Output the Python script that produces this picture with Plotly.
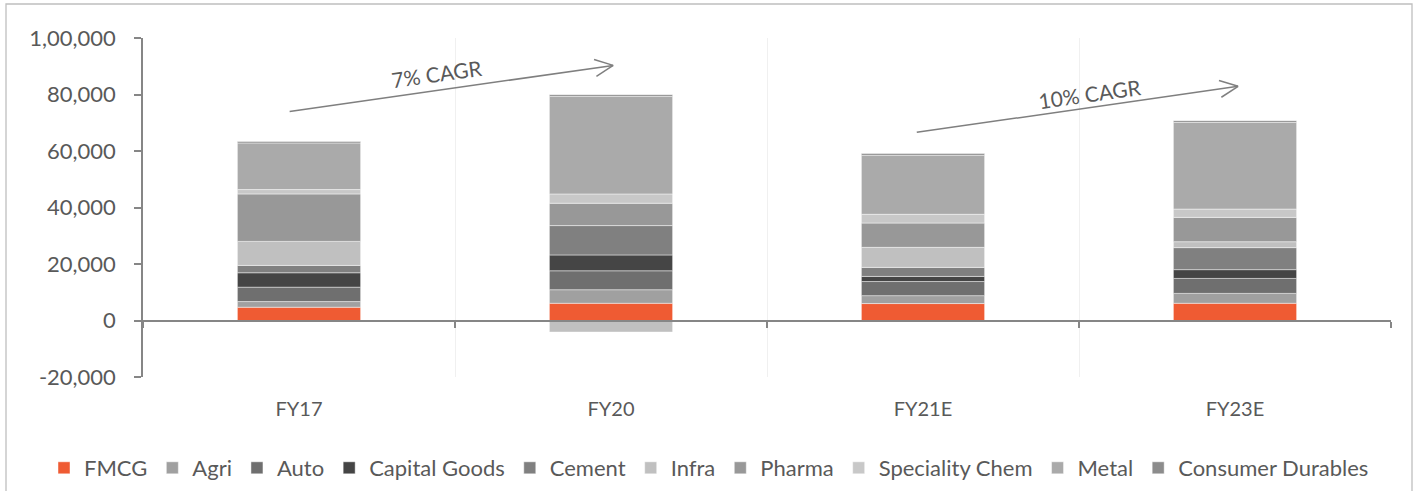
import math
import plotly.graph_objects as go

# ---- data -------------------------------------------------------------
categories = ["FY17", "FY20", "FY21E", "FY23E"]

fmcg = [4700, 6100, 6000, 6100]
agri = [2000, 4800, 2800, 3500]
auto = [5100, 6700, 5000, 5300]
capital_goods = [5100, 5600, 1800, 3100]
cement = [2600, 10400, 3200, 7800]
infra = [8500, -4100, 7100, 2100]
pharma = [16800, 7900, 8600, 8600]
speciality_chem = [1550, 3300, 3100, 2950]
metal = [16500, 34500, 20900, 30700]
consumer_durables = [500, 600, 600, 600]

series_names = ["FMCG", "Agri", "Auto", "Capital Goods", "Cement", "Infra",
                "Pharma", "Speciality Chem", "Metal", "Consumer Durables"]
series_values = [fmcg, agri, auto, capital_goods, cement, infra,
                 pharma, speciality_chem, metal, consumer_durables]
series_colors = ["#EF5B33", "#A0A0A0", "#6F6F6F", "#454545", "#808080",
                 "#C0C0C0", "#989898", "#C8C8C8", "#AAAAAA", "#8C8C8C"]

y_tickvals = [-20000, 0, 20000, 40000, 60000, 80000, 100000]
y_ticktext = ["-20,000", "0", "20,000", "40,000", "60,000", "80,000", "1,00,000"]

cagr_labels = ["7% CAGR", "10% CAGR"]

# ---- layout geometry ---------------------------------------------------
W, H = 1416, 491
ML, MR, MT, MB = 143, 25, 38, 114
plot_w = W - ML - MR
plot_h = H - MT - MB
y_range = [-20000, 100000]
px_per_cat = plot_w / len(categories)
px_per_unit = plot_h / (y_range[1] - y_range[0])

FONT = "Lato"
TEXT = "#595959"
AXIS = "#868686"

fig = go.Figure()
for name, vals, col in zip(series_names, series_values, series_colors):
    fig.add_trace(go.Bar(
        x=categories, y=vals, name=name,
        marker=dict(color=col, line=dict(color="rgba(255,255,255,0.45)", width=1)),
        width=0.395,
    ))

shapes = []

# CAGR arrows: shaft plus an open chevron head
arrows = [
    (-0.03, 74000, 1.007, 90300),
    (1.98, 66600, 3.01, 82900),
]
for x0, y0, x1, y1 in arrows:
    shapes.append(dict(type="line", xref="x", yref="y", x0=x0, y0=y0, x1=x1, y1=y1,
                       line=dict(color="#7F7F7F", width=1.5)))
    ang = math.atan2((y1 - y0) * px_per_unit, (x1 - x0) * px_per_cat)
    for s in (1, -1):
        a = ang + math.pi + s * math.radians(25)
        shapes.append(dict(type="line", xref="x", yref="y",
                           xsizemode="pixel", ysizemode="pixel",
                           xanchor=x1, yanchor=y1,
                           x0=0, y0=0, x1=20 * math.cos(a), y1=20 * math.sin(a),
                           line=dict(color="#7F7F7F", width=1.5)))

# outer frame of the chart
shapes.append(dict(type="rect", xref="paper", yref="paper", layer="below",
                   x0=(6 - ML) / plot_w, x1=(1412 - ML) / plot_w,
                   y0=(H - MB - 500) / plot_h, y1=(H - MB - 4) / plot_h,
                   line=dict(color="#BFBFBF", width=1.3), fillcolor="rgba(0,0,0,0)"))

annotations = [
    dict(x=0.441, y=87600, xref="x", yref="y", text=cagr_labels[0], showarrow=False,
         textangle=-8, font=dict(family=FONT, size=21, color=TEXT)),
    dict(x=2.535, y=80300, xref="x", yref="y", text=cagr_labels[1], showarrow=False,
         textangle=-8, font=dict(family=FONT, size=21, color=TEXT)),
]

zero_pos = (0 - y_range[0]) / (y_range[1] - y_range[0])

fig.update_layout(
    width=W, height=H,
    margin=dict(l=ML, r=MR, t=MT, b=MB, pad=0, autoexpand=False),
    barmode="relative",
    paper_bgcolor="white", plot_bgcolor="white",
    font=dict(family=FONT, color=TEXT),
    xaxis=dict(
        type="category", range=[-0.5, 3.5],
        showline=False, showgrid=False, zeroline=False, ticks="",
        tickfont=dict(family=FONT, size=20, color=TEXT),
        ticklabelstandoff=18,
    ),
    xaxis2=dict(
        overlaying="x", anchor="free", position=zero_pos, side="bottom",
        range=[-0.5, 3.5], tickvals=[-0.5, 0.5, 1.5, 2.5, 3.5],
        showticklabels=False, ticks="outside", ticklen=6, tickwidth=1.5, tickcolor=AXIS,
        showline=True, linecolor=AXIS, linewidth=2,
        showgrid=True, gridcolor="#F0F0F0", gridwidth=1,
        zeroline=False, layer="above traces",
    ),
    yaxis=dict(
        range=y_range, tickvals=y_tickvals, ticktext=y_ticktext,
        showline=True, linecolor=AXIS, linewidth=1.5,
        ticks="outside", ticklen=7, tickwidth=1.5, tickcolor=AXIS,
        showgrid=False, zeroline=False,
        tickfont=dict(family=FONT, size=22, color=TEXT),
        ticklabelstandoff=14,
    ),
    legend=dict(
        orientation="h",
        x=(44 - ML) / plot_w, xanchor="left",
        y=(H - MB - 468) / plot_h, yanchor="middle",
        traceorder="normal",
        font=dict(family=FONT, size=22, color=TEXT),
        itemwidth=30, tracegroupgap=0,
    ),
    shapes=shapes,
    annotations=annotations,
)

# invisible anchor so the zero-line axis is rendered
fig.add_trace(go.Scatter(x=[None], y=[None], xaxis="x2", yaxis="y",
                         showlegend=False, hoverinfo="skip"))

fig.write_html("out.html")
